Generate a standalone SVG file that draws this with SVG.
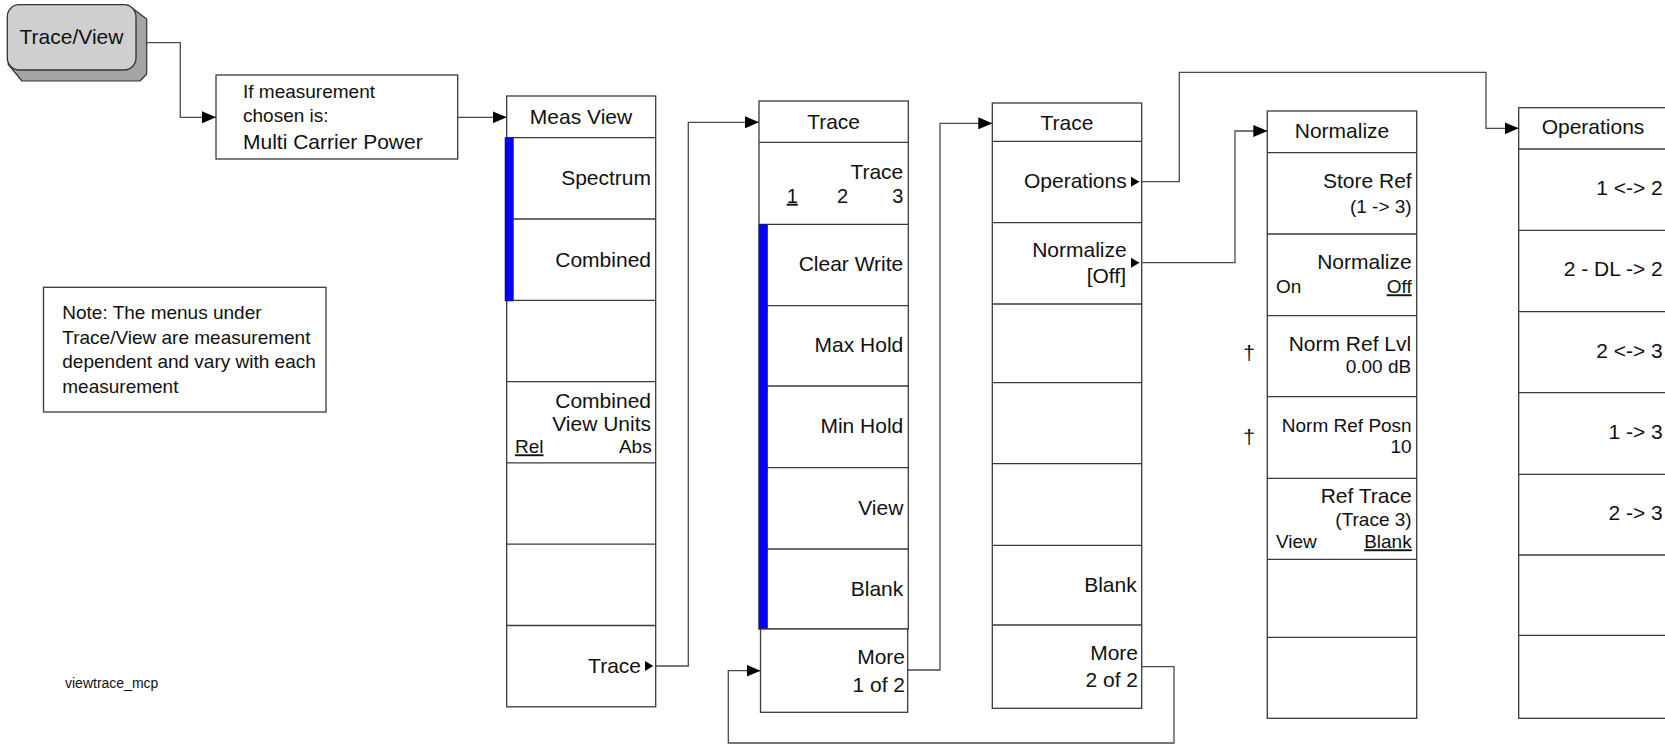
<svg xmlns="http://www.w3.org/2000/svg" width="1665" height="744" viewBox="0 0 1665 744">
<style>
  text { font-family: "Liberation Sans", Arial, sans-serif; fill: #111; }
  .m { font-size: 21px; }
  .s { font-size: 19px; }
  .e { text-anchor: end; }
  .c { text-anchor: middle; }
  .u { text-decoration: underline; }
  .box { fill: #fff; stroke: #3a3a3a; stroke-width: 1.3; }
  .div { stroke: #3a3a3a; stroke-width: 1.3; fill: none; }
  .blue { fill: #0000ff; stroke: #202060; stroke-width: 0.6; }
  .tri { fill: #000; }
  .conn path { fill: none; stroke: #4a4a4a; stroke-width: 1.3; marker-end: url(#arr); }
  .conn path.na { marker-end: none; }
</style>
<defs>
  <marker id="arr" markerUnits="userSpaceOnUse" markerWidth="14" markerHeight="12" refX="14" refY="6" orient="auto">
    <path d="M0,0 L14,6 L0,12 z" fill="#000"/>
  </marker>
</defs>
<rect width="1665" height="744" fill="#fff"/>

<g id="connectors" class="conn">
  <path d="M146.7,42.7 H180.3 V117.3 H216"/>
  <path d="M457.7,117.3 H506.7"/>
  <path d="M655.7,666 H688.3 V122.3 H759"/>
  <path d="M907.7,670 H940 V123.3 H992.3"/>
  <path d="M1141.7,181.7 H1179.3 V72.3 H1486 V128.3 H1518.7"/>
  <path d="M1141.7,262.7 H1235 V131 H1267.3"/>
  <path d="M1141.7,666.7 H1174 V743 H728.3 V670.7 H760.5"/>
</g>

<g id="trace-view-key">
  <polygon points="128,5 146.7,19 146.7,74 140,81 22,81 8,64" fill="#a4a4a4" stroke="#333" stroke-width="1.2" stroke-linejoin="round"/>
  <rect x="7.3" y="4.7" width="128.7" height="65.3" rx="12" ry="12" fill="#cfcfcf" stroke="#333" stroke-width="1.3"/>
  <text class="m c" x="71.5" y="44">Trace/View</text>
</g>

<g id="condition">
  <rect class="box" x="216" y="75" width="241.7" height="84"/>
  <text class="s" x="243" y="98">If measurement</text>
  <text class="s" x="243" y="122">chosen is:</text>
  <text class="m" x="243" y="149">Multi Carrier Power</text>
</g>

<g id="note">
  <rect class="box" x="43.5" y="287.3" width="282.5" height="124.7"/>
  <text class="s" x="62.3" y="319.3">Note: The menus under</text>
  <text class="s" x="62.3" y="343.7">Trace/View are measurement</text>
  <text class="s" x="62.3" y="368.3">dependent and vary with each</text>
  <text class="s" x="62.3" y="392.7">measurement</text>
</g>

<g id="label">
  <text x="65" y="688.3" style="font-size:14px">viewtrace_mcp</text>
</g>

<g id="meas-view-menu">
  <rect class="box" x="506.7" y="96" width="149" height="610.8"/>
  <path class="div" d="M506.7,137.7 H655.7 M506.7,219 H655.7 M506.7,300.3 H655.7 M506.7,381.6 H655.7 M506.7,462.9 H655.7 M506.7,544.2 H655.7 M506.7,625.5 H655.7"/>
  <rect class="blue" x="505" y="137.7" width="8.3" height="163.3"/>
  <text class="m c" x="581" y="124">Meas View</text>
  <text class="m e" x="651" y="185">Spectrum</text>
  <text class="m e" x="651" y="266.5">Combined</text>
  <text class="m e" x="651" y="408">Combined</text>
  <text class="m e" x="651" y="431">View Units</text>
  <text class="s u" x="515" y="453.3">Rel</text>
  <text class="s e" x="651.7" y="453.3">Abs</text>
  <text class="m e" x="641" y="672.7">Trace</text>
  <polygon class="tri" points="645,661 653.3,666 645,671"/>
</g>

<g id="trace-menu-1">
  <rect class="box" x="759" y="101" width="149.3" height="528"/>
  <path class="div" d="M759,142.3 H908.3 M759,224.3 H908.3 M759,305.7 H908.3 M759,386 H908.3 M759,467.7 H908.3 M759,549 H908.3"/>
  <rect class="blue" x="759" y="224.3" width="8.6" height="404.7"/>
  <rect class="box" x="760.5" y="629" width="147.2" height="83.3"/>
  <text class="m c" x="833.6" y="129">Trace</text>
  <text class="m e" x="903.3" y="179">Trace</text>
  <text class="u" x="786.7" y="202.7" style="font-size:20px">1</text>
  <text class="c" x="842.5" y="202.7" style="font-size:20px">2</text>
  <text class="e" x="903.3" y="202.7" style="font-size:20px">3</text>
  <text class="m e" x="903.3" y="270.7">Clear Write</text>
  <text class="m e" x="903.3" y="351.7">Max Hold</text>
  <text class="m e" x="903.3" y="433.3">Min Hold</text>
  <text class="m e" x="903.3" y="515">View</text>
  <text class="m e" x="903.3" y="596">Blank</text>
  <text class="m e" x="905" y="664">More</text>
  <text class="m e" x="905" y="691.7">1 of 2</text>
</g>

<g id="trace-menu-2">
  <rect class="box" x="992.3" y="103" width="149.4" height="605.3"/>
  <path class="div" d="M992.3,141.3 H1141.7 M992.3,222.7 H1141.7 M992.3,304 H1141.7 M992.3,382.7 H1141.7 M992.3,463.7 H1141.7 M992.3,545.3 H1141.7 M992.3,625 H1141.7"/>
  <text class="m c" x="1067" y="130">Trace</text>
  <text class="m e" x="1126.7" y="187.7">Operations</text>
  <polygon class="tri" points="1131,176.7 1139.5,181.7 1131,186.7"/>
  <text class="m e" x="1126.7" y="256.7">Normalize</text>
  <text class="m e" x="1126" y="283.3">[Off]</text>
  <polygon class="tri" points="1131,257.7 1139.5,262.7 1131,267.7"/>
  <text class="m e" x="1136.7" y="591.7">Blank</text>
  <text class="m e" x="1138" y="660">More</text>
  <text class="m e" x="1138" y="687.3">2 of 2</text>
</g>

<g id="normalize-menu">
  <rect class="box" x="1267.3" y="111" width="149.4" height="607.3"/>
  <path class="div" d="M1267.3,152.7 H1416.7 M1267.3,234 H1416.7 M1267.3,315.7 H1416.7 M1267.3,396.7 H1416.7 M1267.3,478.3 H1416.7 M1267.3,559.3 H1416.7 M1267.3,637.3 H1416.7"/>
  <text class="m c" x="1342" y="138.3">Normalize</text>
  <text class="m e" x="1411.7" y="188.3">Store Ref</text>
  <text class="s e" x="1411.7" y="213.3">(1 -&gt; 3)</text>
  <text class="m e" x="1411.7" y="269.3">Normalize</text>
  <text class="s" x="1276" y="293.3">On</text>
  <text class="s e u" x="1411.7" y="293.3">Off</text>
  <text class="m e" x="1411.2" y="350.7">Norm Ref Lvl</text>
  <text class="s e" x="1411.2" y="373.3">0.00 dB</text>
  <text class="s e" x="1411.7" y="431.7">Norm Ref Posn</text>
  <text class="s e" x="1411.7" y="453.3">10</text>
  <text class="m e" x="1411.7" y="502.7">Ref Trace</text>
  <text class="s e" x="1411.7" y="526">(Trace 3)</text>
  <text class="s" x="1276" y="548.3">View</text>
  <text class="s e u" x="1411.7" y="548.3">Blank</text>
  <text class="m c" x="1249" y="360">†</text>
  <text class="m c" x="1249" y="444">†</text>
</g>

<g id="operations-menu">
  <rect class="box" x="1518.7" y="107.7" width="160" height="610.6"/>
  <path class="div" d="M1518.7,149 H1680 M1518.7,230.3 H1680 M1518.7,311.7 H1680 M1518.7,392.7 H1680 M1518.7,474.3 H1680 M1518.7,555 H1680 M1518.7,635.3 H1680"/>
  <text class="m c" x="1593" y="134">Operations</text>
  <text class="m e" x="1662.7" y="195">1 &lt;-&gt; 2</text>
  <text class="m e" x="1662.7" y="276">2 - DL -&gt; 2</text>
  <text class="m e" x="1662.7" y="357.7">2 &lt;-&gt; 3</text>
  <text class="m e" x="1662.7" y="439.3">1 -&gt; 3</text>
  <text class="m e" x="1662.7" y="520">2 -&gt; 3</text>
</g>
</svg>
